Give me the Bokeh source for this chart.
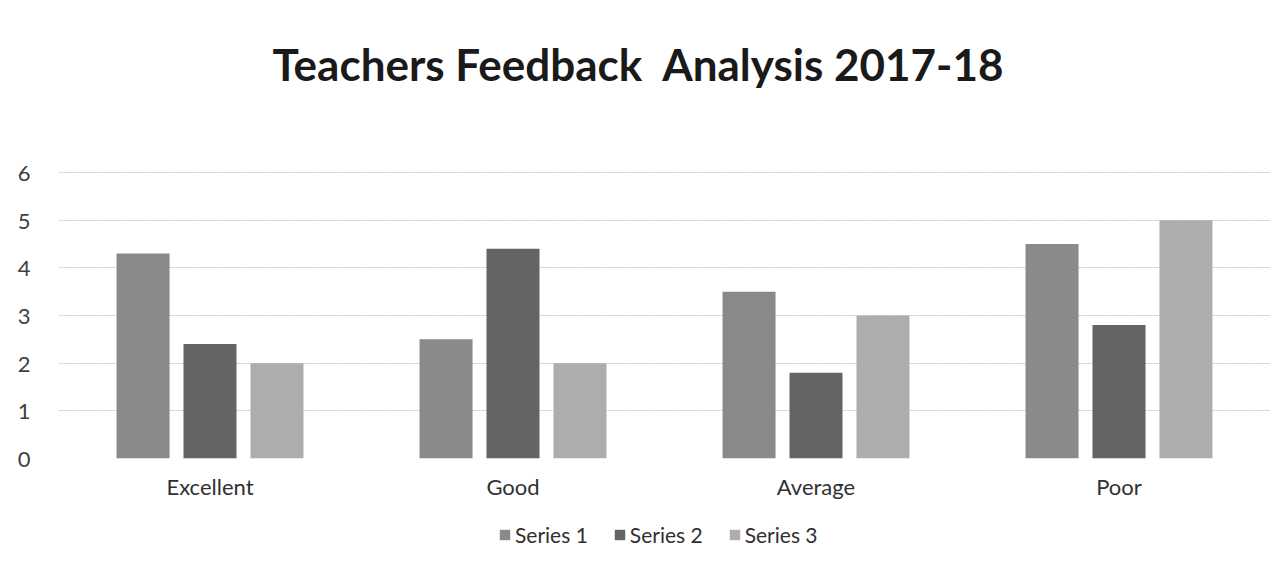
from bokeh.plotting import figure
from bokeh.layouts import column
from bokeh.models import ColumnDataSource, FactorRange, Legend, LegendItem, Range1d
from bokeh.transform import dodge
from bokeh.embed import file_html
from bokeh.resources import INLINE

title_text = "Teachers Feedback\u00a0 Analysis 2017-18"
categories = ["Excellent", "Good", "Average", "Poor"]
series_names = ["Series 1", "Series 2", "Series 3"]
series1 = [4.3, 2.5, 3.5, 4.5]
series2 = [2.4, 4.4, 1.8, 2.8]
series3 = [2.0, 2.0, 3.0, 5.0]
y_ticks = [0, 1, 2, 3, 4, 5, 6]
colors = ["#8a8a8a", "#646464", "#adadad"]
keys = ["s1", "s2", "s3"]

source = ColumnDataSource(dict(cat=categories, s1=series1, s2=series2, s3=series3))

FONT = "Lato"

# title strip
tf = figure(width=1270, height=136, x_range=FactorRange(*categories), y_range=Range1d(0, 1),
            output_backend="svg", toolbar_location=None, title=title_text,
            min_border_left=0, min_border_right=0, min_border_top=0, min_border_bottom=0)
tf.axis.visible = False
tf.grid.grid_line_color = None
tf.outline_line_color = None
tf.title.text_font = FONT
tf.title.text_font_size = "44px"
tf.title.text_font_style = "bold"
tf.title.text_color = "#1a1a1a"
tf.title.align = "left"
tf.title.offset = 214
tf.title.vertical_align = "top"
tf.title.standoff = 75

# main chart
p = figure(
    x_range=FactorRange(*categories, range_padding=0),
    y_range=Range1d(0, 6.02),
    width=1270, height=369,
    output_backend="svg", toolbar_location=None,
    min_border_left=50, min_border_right=0, min_border_top=35, min_border_bottom=47,
)

for key, off, col in zip(keys, [-0.221, 0.0, 0.221], colors):
    p.vbar(x=dodge("cat", off, range=p.x_range), top=key, width=0.175,
           source=source, fill_color=col, line_color=None)

p.xgrid.grid_line_color = None
p.ygrid.grid_line_color = "#c8c8c8"
p.ygrid.grid_line_width = 1
p.ygrid.grid_line_dash = "2 1"
p.outline_line_color = None

p.yaxis.ticker = y_ticks
# leading spaces widen the axis panel so the digits sit nearer the plot area
p.yaxis.major_label_overrides = {t: "\u2002\u2009" + str(t) for t in y_ticks}
p.yaxis.axis_line_color = None
p.yaxis.major_tick_line_color = None
p.yaxis.minor_tick_line_color = None
p.yaxis.major_label_text_font = FONT
p.yaxis.major_label_text_font_size = "22px"
p.yaxis.major_label_text_color = "#404040"
p.yaxis.major_label_standoff = 22

p.xaxis.axis_line_color = None
p.xaxis.major_tick_line_color = None
p.xaxis.minor_tick_line_color = None
p.xaxis.major_label_text_font = FONT
p.xaxis.major_label_text_font_size = "22px"
p.xaxis.major_label_text_color = "#303030"
p.xaxis.major_label_standoff = 8

# legend strip below the chart (its glyphs are hidden; only the legend shows)
lg = figure(width=1270, height=50, x_range=FactorRange(*categories), y_range=Range1d(0, 1),
            output_backend="svg", toolbar_location=None,
            min_border_left=0, min_border_right=0, min_border_top=0, min_border_bottom=0)
lg.axis.visible = False
lg.grid.grid_line_color = None
lg.outline_line_color = None
rs = [lg.vbar(x="cat", top=k, width=0.1, source=source, fill_color=c, line_color=None,
              visible=False)
      for k, c in zip(keys, colors)]
legend = Legend(
    items=[LegendItem(label=n, renderers=[r]) for n, r in zip(series_names, rs)],
    orientation="horizontal", location=(440, 8), click_policy="none",
    label_text_font=FONT, label_text_font_size="21px", label_text_color="#303030",
    glyph_width=13, glyph_height=13, spacing=25, label_standoff=4,
    border_line_color=None, background_fill_alpha=0, margin=0, padding=0,
)
lg.add_layout(legend)

layout = column(tf, p, lg, spacing=0)
open("out.html", "w").write(file_html(layout, INLINE))
